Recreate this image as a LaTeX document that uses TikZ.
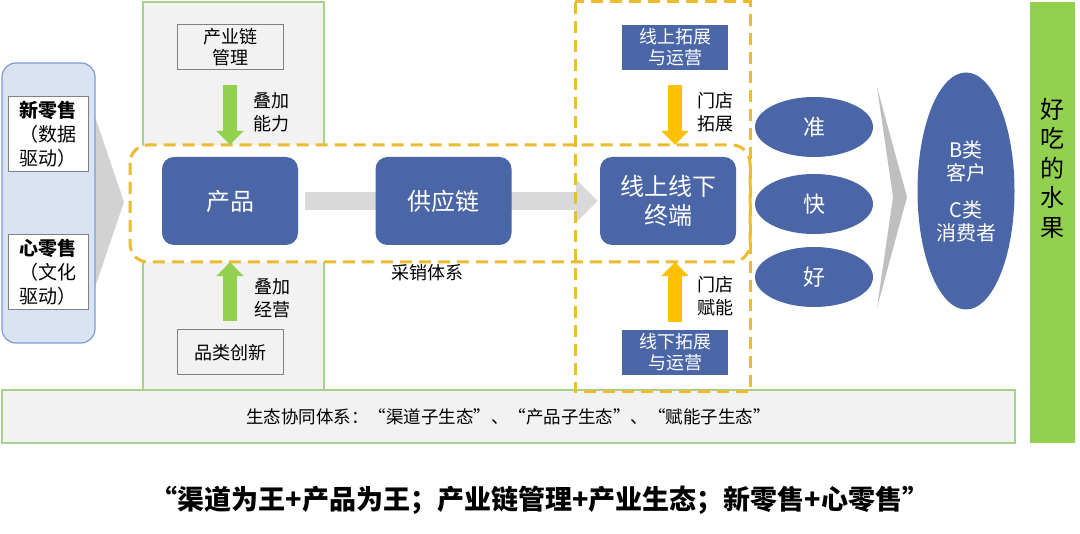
\documentclass[tikz,border=0pt]{standalone}
\usepackage{fontspec}
\setmainfont{Noto Sans CJK SC}
\usetikzlibrary{arrows.meta}
\definecolor{nodeblue}{HTML}{4A66A6}
\definecolor{panelblue}{HTML}{DAE3F3}
\definecolor{panelline}{HTML}{7F9CCB}
\definecolor{leafgreen}{HTML}{92D050}
\definecolor{linegreen}{HTML}{A9D18E}
\definecolor{dashgold}{HTML}{EDBB2E}
\definecolor{arrowgold}{HTML}{FFC000}
\definecolor{palegray}{HTML}{F2F2F2}
\definecolor{shaftgray}{HTML}{D9D9D9}
\definecolor{chevgray}{HTML}{BFBFBF}
\pgfdeclarelayer{bg}
\pgfdeclarelayer{mid}
\pgfsetlayers{bg,mid,main}
\tikzset{
  bluebox/.style={fill=nodeblue, text=white, rounded corners=12pt, minimum width=136pt,
    minimum height=88pt, align=center, font=\fontsize{24}{29}\selectfont},
  plainbox/.style={fill=palegray, draw=gray, line width=1pt, minimum width=106pt,
    minimum height=45pt, align=center, font=\fontsize{18}{21}\selectfont},
  tagbox/.style={fill=nodeblue, text=white, minimum width=106pt, minimum height=45pt,
    align=center, font=\fontsize{18}{21}\selectfont},
  sidebox/.style={fill=white, draw=gray, line width=1pt, minimum width=80pt,
    minimum height=75pt, align=center, font=\fontsize{19}{24}\selectfont},
  goal/.style={ellipse, fill=nodeblue, text=white, minimum width=118pt, minimum height=60pt,
    font=\fontsize{22}{26}\selectfont},
  note/.style={align=center, font=\fontsize{18}{23}\selectfont},
  goldline/.style={draw=dashgold, line width=3pt, dash pattern=on 12pt off 7pt},
  growarrow/.style={draw=leafgreen, line width=14pt, -{Triangle[length=14pt,width=27pt]}},
  goldarrow/.style={draw=arrowgold, line width=14pt, -{Triangle[length=14pt,width=27pt]}},
  flowarrow/.style={draw=shaftgray, line width=18pt, -{Triangle[length=22pt,width=42pt]}},
}
\usetikzlibrary{shapes.geometric}
\begin{document}
\begin{tikzpicture}[x=1pt,y=-1pt]
\useasboundingbox (0,0) rectangle (1080,534);
% backgrounds
\begin{pgfonlayer}{bg}
  \filldraw[fill=palegray, draw=linegreen, line width=1.2pt] (143,2) rectangle (324,390);
  \fill[chevgray!70] (88,96) -- (124,202) -- (88,308) -- cycle;
  \filldraw[fill=panelblue, draw=panelline, line width=1.2pt, rounded corners=14pt] (2,63) rectangle (95,343);
  \filldraw[fill=white, goldline, rounded corners=18pt] (130,145) rectangle (750,262);
\end{pgfonlayer}
\fill[leafgreen] (1030,2) rectangle (1075,443);
\node[align=center, font=\fontsize{24}{29.5}\selectfont] (fruit) at (1052.5,168) {好\\吃\\的\\水\\果};
\node[fill=palegray, draw=linegreen, line width=1.2pt, minimum width=1013pt, minimum height=53pt,
  font=\fontsize{17.5}{20}\selectfont] (eco) at (508.5,416.5)
  {生态协同体系：“渠道子生态”、“产品子生态”、“赋能子生态”};
\draw[goldline] (575,2) rectangle (750,392);
% left side
\node[sidebox] (newretail) at (48,134.5) {\textbf{新零售}\\（数据\\驱动）};
\node[sidebox] (heartretail) at (48,272.5) {\textbf{心零售}\\（文化\\驱动）};
% main chain
\node[bluebox] (product) at (230,201) {产品};
\node[bluebox] (supply) at (443.5,201) {供应链};
\node[bluebox] (terminal) at (668,201) {线上线下\\终端};
\node[note] (purchase) at (427,273) {采销体系};
\node[plainbox] (chainmgmt) at (230,47.5) {产业链\\管理};
\node[plainbox] (category) at (230,352.5) {品类创新};
\node[tagbox] (online) at (675,47.5) {线上拓展\\与运营};
\node[tagbox] (offline) at (675,352.5) {线下拓展\\与运营};
\node[note] (addpower) at (271,112) {叠加\\能力};
\node[note] (addops) at (272,298) {叠加\\经营};
\node[note] (expand) at (715,112) {门店\\拓展};
\node[note] (enable) at (715,296) {门店\\赋能};
% results
\node[goal] (exact) at (814,127) {准};
\node[goal] (fast) at (814,204) {快};
\node[goal] (good) at (814,277) {好};
\fill[chevgray] (877,87) -- (907,197) -- (877,308) -- (893,197) -- cycle;
\node[ellipse, fill=nodeblue, text=white, minimum width=97pt, minimum height=237pt, align=center,
  font=\fontsize{20}{23}\selectfont] (client) at (966,191) {B类\\客户\\[14pt]C类\\消费者};
% arrows
\begin{pgfonlayer}{mid}
  \draw[flowarrow, shorten <=7pt, shorten >=2pt] (product.east) -- (terminal.west);
\end{pgfonlayer}
\draw[growarrow, shorten <=15pt, shorten >=12pt] (chainmgmt.south) -- (product.north);
\draw[growarrow, shorten <=8pt, shorten >=17pt] (category.north) -- (product.south);
\draw[goldarrow, shorten <=15pt, shorten >=12pt] (online.south) -- (online.south |- terminal.north);
\draw[goldarrow, shorten <=8pt, shorten >=17pt] (offline.north) -- (offline.north |- terminal.south);
% title
\node[font=\fontsize{27}{32}\selectfont\bfseries] (motto) at (540,500)
  {“渠道为王+产品为王；产业链管理+产业生态；新零售+心零售”};
\end{tikzpicture}
\end{document}
